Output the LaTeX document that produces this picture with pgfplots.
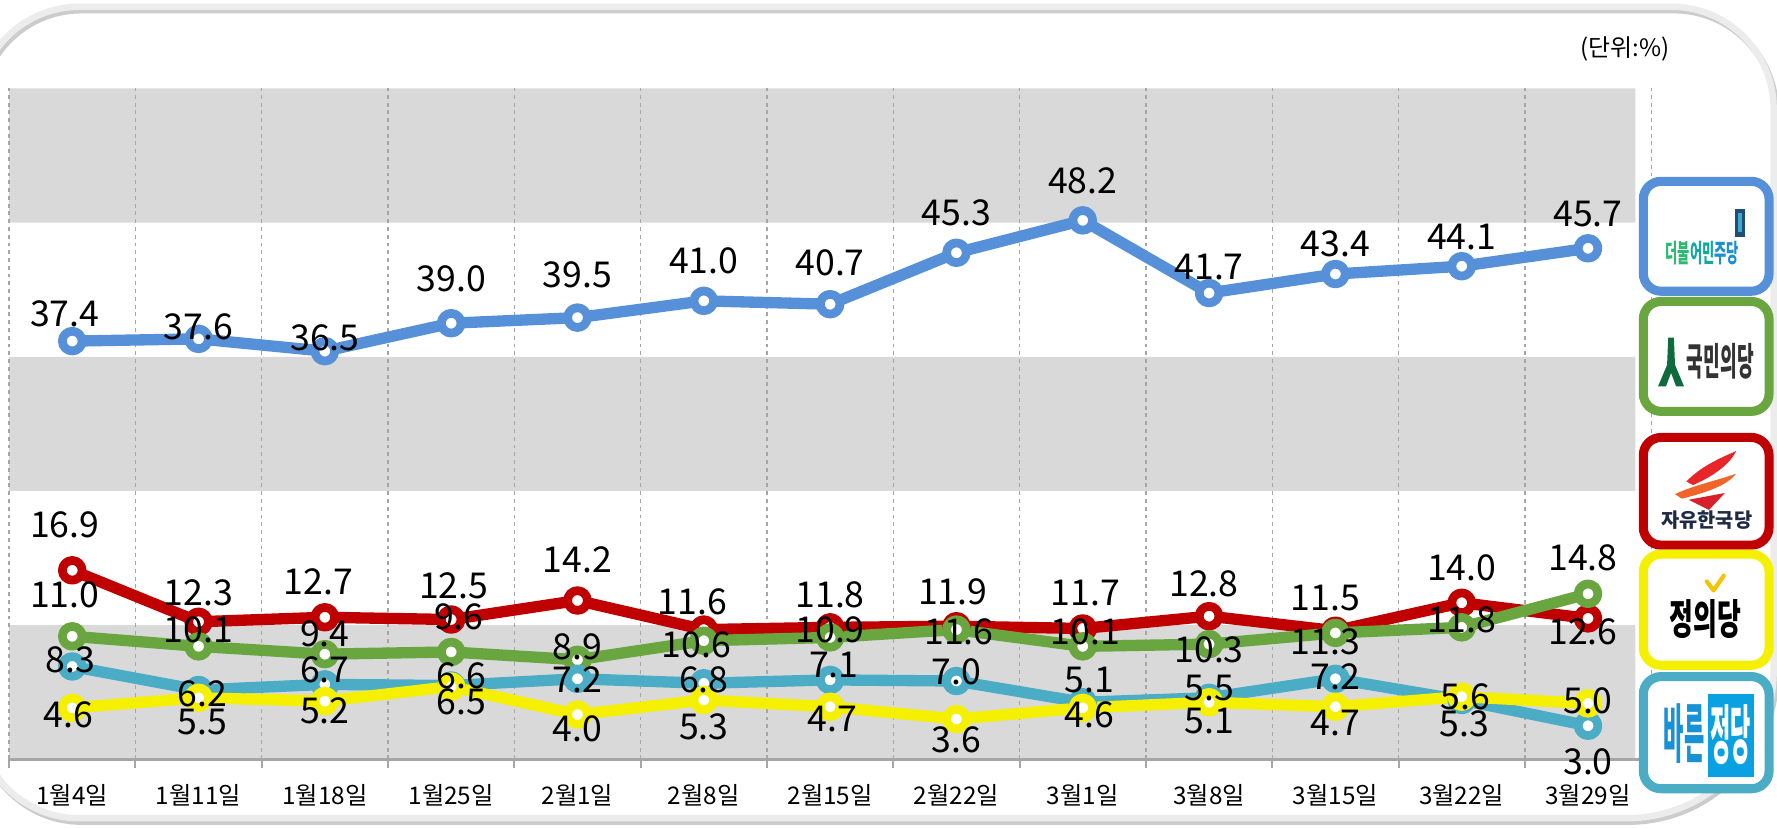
\documentclass[border=0pt]{standalone}
\usepackage{fontspec}
\setmainfont{Noto Sans CJK KR}
\usepackage{graphicx}
\usepackage{pgfplots}
\usepackage{pgfplotstable}
\pgfplotsset{compat=1.18}

\definecolor{cblue}{HTML}{5590D8}
\definecolor{cred}{HTML}{C00000}
\definecolor{cgreen}{HTML}{6AA640}
\definecolor{ccyan}{HTML}{4BACC6}
\definecolor{cyellow}{HTML}{F5F000}
\definecolor{band}{HTML}{D9D9D9}
\definecolor{gridc}{HTML}{A6A6A6}
\definecolor{dgA}{HTML}{2EB872}
\definecolor{dgB}{HTML}{14A9A0}
\definecolor{dgC}{HTML}{1B8FD0}
\definecolor{flagA}{HTML}{1F4E79}
\definecolor{flagB}{HTML}{3FA9C9}
\definecolor{kmgreen}{HTML}{0E6B3B}
\definecolor{navy}{HTML}{1F2A44}
\definecolor{flameA}{HTML}{E8262A}
\definecolor{flameB}{HTML}{F2652A}
\definecolor{flameC}{HTML}{D8202A}
\definecolor{gold}{HTML}{F5C400}
\definecolor{barun}{HTML}{0AA1E2}
\definecolor{baruntxt}{HTML}{1891D5}

% data series
\pgfplotstableread{
x y
0 37.4
1 37.6
2 36.5
3 39.0
4 39.5
5 41.0
6 40.7
7 45.3
8 48.2
9 41.7
10 43.4
11 44.1
12 45.7
}\tblBlue
\pgfplotstableread{
x y
0 16.9
1 12.3
2 12.7
3 12.5
4 14.2
5 11.6
6 11.8
7 11.9
8 11.7
9 12.8
10 11.5
11 14.0
12 12.6
}\tblRed
\pgfplotstableread{
x y
0 11.0
1 10.1
2 9.4
3 9.6
4 8.9
5 10.6
6 10.9
7 11.6
8 10.1
9 10.3
10 11.3
11 11.8
12 14.8
}\tblGreen
\pgfplotstableread{
x y
0 8.3
1 6.2
2 6.7
3 6.6
4 7.2
5 6.8
6 7.1
7 7.0
8 5.1
9 5.5
10 7.2
11 5.3
12 3.0
}\tblCyan
\pgfplotstableread{
x y
0 4.6
1 5.5
2 5.2
3 6.5
4 4.0
5 5.3
6 4.7
7 3.6
8 4.6
9 5.1
10 4.7
11 5.6
12 5.0
}\tblYellow

% label positions
\pgfplotstableread{
x y t
-0.06 39.8 37.4
1 38.7 37.6
2 37.7 36.5
3 43.0 39.0
4 43.3 39.5
5 44.6 41.0
6 44.4 40.7
7 48.9 45.3
8 51.7 48.2
9 44.0 41.7
10 46.1 43.4
11 46.7 44.1
12 48.8 45.7
}\lblBlue
\pgfplotstableread{
x y t
-0.06 21.0 16.9
1 14.9 12.3
1.95 15.9 12.7
3.02 15.5 12.5
4 17.8 14.2
4.91 14.1 11.6
6 14.7 11.8
6.97 15.0 11.9
8.02 14.9 11.7
8.96 15.7 12.8
9.92 14.4 11.5
11 17.1 14.0
11.96 11.4 12.6
}\lblRed
\pgfplotstableread{
x y t
-0.06 14.7 11.0
1 11.6 10.1
2 11.2 9.4
3.06 12.7 9.6
4 10.1 8.9
4.94 10.2 10.6
6 11.6 10.9
7.02 11.4 11.6
8.02 11.4 10.1
9 9.8 10.3
9.92 10.5 11.3
11 12.5 11.8
11.96 18.0 14.8
}\lblGreen
\pgfplotstableread{
x y t
-0.015 8.9 8.3
1.03 5.9 6.2
2 8.0 6.7
3.08 7.5 6.6
4 7.1 7.2
5 7.1 6.8
6.03 8.4 7.1
7 7.8 7.0
8.05 7.1 5.1
9 6.4 5.5
10 7.4 7.2
11.02 3.2 5.3
12 -0.2 3.0
}\lblCyan
\pgfplotstableread{
x y t
-0.03 4.0 4.6
1.03 3.3 5.5
2 4.3 5.2
3.08 5.1 6.5
4 2.7 4.0
5 2.9 5.3
6.02 3.6 4.7
7 1.7 3.6
8.05 4.0 4.6
9 3.4 5.1
10 3.2 4.7
11.03 5.6 5.6
12 5.2 5.0
}\lblYellow

\begin{document}
\begin{tikzpicture}
% ---------- frame (coordinates in reference pixels, y downward)
\begin{scope}[x=0.35pt,y=-0.35pt,yshift=255.85pt]
 \useasboundingbox (0,0) rectangle (1568,731);
 \draw[gray!40, line width=2pt, shift={(2,3)}]
   (-20,96) .. controls (-20,46.3) and (20.3,6) .. (70,6) -- (1475,6)
   .. controls (1524.7,6) and (1565,46.3) .. (1565,96) -- (1565,592)
   .. controls (1565,663.8) and (1506.8,722) .. (1435,722) -- (70,722)
   .. controls (20.3,722) and (-20,681.7) .. (-20,632) -- cycle;
 \draw[gray!15, line width=2pt]
   (-20,96) .. controls (-20,46.3) and (20.3,6) .. (70,6) -- (1475,6)
   .. controls (1524.7,6) and (1565,46.3) .. (1565,96) -- (1565,592)
   .. controls (1565,663.8) and (1506.8,722) .. (1435,722) -- (70,722)
   .. controls (20.3,722) and (-20,681.7) .. (-20,632) -- cycle;
 \node at (1434,43) {\fontsize{7.4}{8}\selectfont (단위:\%)};
\end{scope}

\begin{axis}[
  set layers,
  at={(2.8pt,21.35pt)}, anchor=south west,
  scale only axis, width=507.15pt, height=207.2pt,
  xmin=-0.5, xmax=12.5, ymin=0, ymax=60,
  clip=false,
  axis x line*=bottom, axis y line=none,
  x axis line style={draw=gridc, line width=0.8pt, -},
  xtick={0,...,12},
  xticklabels={1월4일,1월11일,1월18일,1월25일,2월1일,2월8일,2월15일,2월22일,3월1일,3월8일,3월15일,3월22일,3월29일},
  major tick length=0pt,
  minor xtick={-0.5,0.5,...,12.5},
  minor tick length=2.8pt,
  tick align=outside,
  minor tick style={draw=gridc, line width=0.6pt},
  xminorgrids=true,
  minor x grid style={draw=gridc, line width=0.4pt, dash pattern=on 1.2pt off 1.2pt},
  ytick=\empty,
  x tick label style={font=\fontsize{7.5}{8}\selectfont, anchor=center, yshift=-11pt, text=black},
  every node near coord/.append style={anchor=center, font=\fontsize{11}{12}\selectfont, inner sep=0pt, text=black},
]
% background bands
\addplot[draw=none, fill=band, on layer=axis background, forget plot] coordinates {(-0.5,0) (12.375,0) (12.375,12) (-0.5,12) (-0.5,0)};
\addplot[draw=none, fill=band, on layer=axis background, forget plot] coordinates {(-0.5,24) (12.375,24) (12.375,36) (-0.5,36) (-0.5,24)};
\addplot[draw=none, fill=band, on layer=axis background, forget plot] coordinates {(-0.5,48) (12.375,48) (12.375,60) (-0.5,60) (-0.5,48)};

% series
\addplot[cblue, line width=3.5pt, line join=round, mark=*, mark size=3.05pt, mark options={fill=white, draw=cblue, line width=2.7pt}] table[x=x,y=y] {\tblBlue};
\addplot[cred, line width=3.5pt, line join=round, mark=*, mark size=3.05pt, mark options={fill=white, draw=cred, line width=2.7pt}] table[x=x,y=y] {\tblRed};
\addplot[cgreen, line width=3.5pt, line join=round, mark=*, mark size=3.05pt, mark options={fill=white, draw=cgreen, line width=2.7pt}] table[x=x,y=y] {\tblGreen};
\addplot[ccyan, line width=3.5pt, line join=round, mark=*, mark size=3.05pt, mark options={fill=white, draw=ccyan, line width=2.7pt}] table[x=x,y=y] {\tblCyan};
\addplot[cyellow, line width=3.5pt, line join=round, mark=*, mark size=3.05pt, mark options={fill=white, draw=cyellow, line width=2.7pt}] table[x=x,y=y] {\tblYellow};

% labels
\addplot[draw=none, mark=none, nodes near coords, point meta=explicit symbolic] table[x=x,y=y,meta=t] {\lblBlue};
\addplot[draw=none, mark=none, nodes near coords, point meta=explicit symbolic] table[x=x,y=y,meta=t] {\lblRed};
\addplot[draw=none, mark=none, nodes near coords, point meta=explicit symbolic] table[x=x,y=y,meta=t] {\lblGreen};
\addplot[draw=none, mark=none, nodes near coords, point meta=explicit symbolic] table[x=x,y=y,meta=t] {\lblCyan};
\addplot[draw=none, mark=none, nodes near coords, point meta=explicit symbolic] table[x=x,y=y,meta=t] {\lblYellow};
\end{axis}

% ---------- party boxes
\begin{scope}[x=0.35pt,y=-0.35pt,yshift=255.85pt]
 % 더불어민주당
 \draw[line width=2.8pt, draw=cblue, fill=white, rounded corners=5.5pt] (1450,160) rectangle (1561,257);
 \fill[flagA] (1531,184) rectangle (1540,209);
 \fill[flagB] (1533.5,188) rectangle (1537.5,205);
 \node at (1502,223) {\scalebox{1}[1.9]{\fontsize{4.1}{5}\selectfont\bfseries\color{dgA}더불\color{dgB}어민\color{dgC}주당}};
 % 국민의당
 \draw[line width=2.8pt, draw=cgreen, fill=white, rounded corners=5.5pt] (1450,266) rectangle (1561,363);
 \fill[kmgreen] (1472,298) -- (1477,298) -- (1478,322) -- (1486,341) -- (1479,341) -- (1474.5,329) -- (1470,341) -- (1463,341) -- (1471,322) -- cycle;
 \node at (1518,319) {\scalebox{1}[2.1]{\fontsize{5.6}{6}\selectfont\bfseries\color{black!80}국민의당}};
 % 자유한국당
 \draw[line width=2.8pt, draw=cred, fill=white, rounded corners=5.5pt] (1450,386) rectangle (1561,481);
 \fill[flameA] (1488,425) .. controls (1500,412) and (1518,404) .. (1532,398) .. controls (1526,410) and (1512,420) .. (1494,428) -- cycle;
 \fill[flameB] (1478,436) .. controls (1495,428) and (1515,424) .. (1532,418) .. controls (1524,428) and (1508,434) .. (1484,440) -- cycle;
 \fill[flameC] (1490,441) -- (1522,435) -- (1508,450) -- cycle;
 \node at (1506,459) {\fontsize{6.1}{7}\selectfont\bfseries\color{navy}자유한국당};
 % 정의당
 \draw[line width=2.8pt, draw=cyellow, fill=white, rounded corners=5.5pt] (1450,489) rectangle (1561,587);
 \draw[gold, line width=1.3pt, line cap=round, line join=round] (1506,513) -- (1512,521) -- (1521,508);
 \node at (1505,546) {\scalebox{1}[1.6]{\fontsize{8}{9}\selectfont\bfseries 정의당}};
 % 바른정당
 \draw[line width=2.8pt, draw=ccyan, fill=white, rounded corners=5.5pt] (1450,597) rectangle (1561,696);
 \fill[barun] (1507,612) rectangle (1548,686);
 \node at (1486,647) {\scalebox{1}[2.9]{\fontsize{6.8}{7}\selectfont\bfseries\color{baruntxt}바른}};
 \node at (1527,648) {\scalebox{1}[2.9]{\fontsize{6.8}{7}\selectfont\bfseries\color{white}정당}};
\end{scope}
\end{tikzpicture}
\end{document}
